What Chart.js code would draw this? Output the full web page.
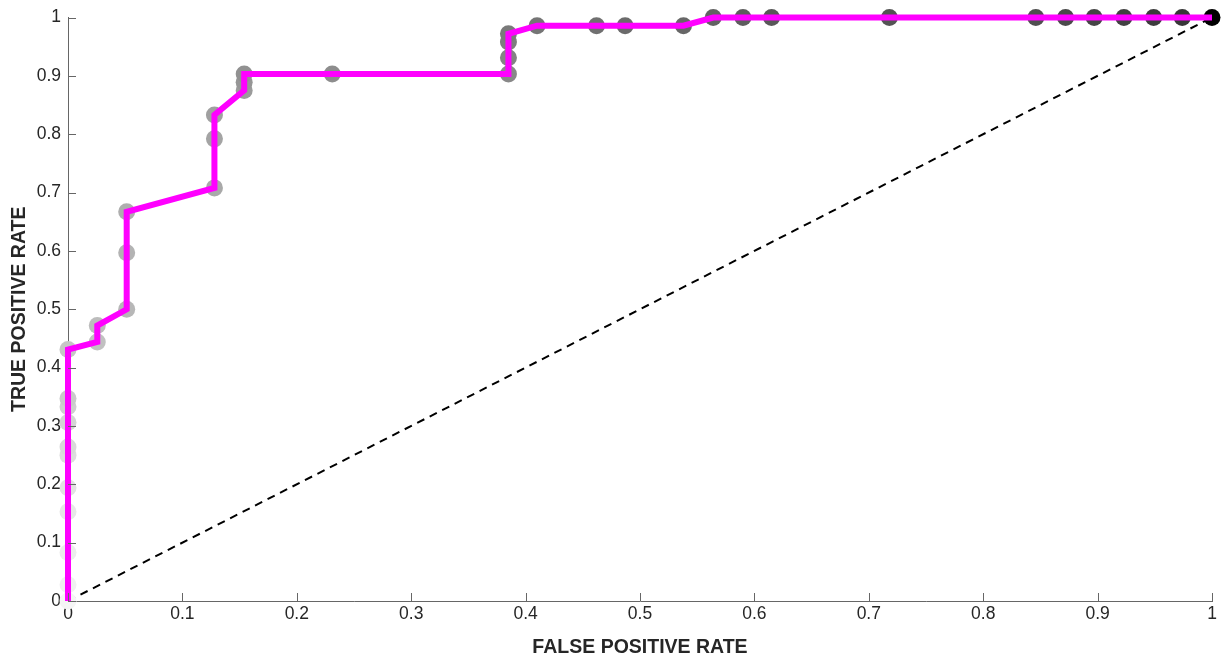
<!DOCTYPE html>
<html>
<head>
<meta charset="utf-8">
<script src="https://cdn.jsdelivr.net/npm/chart.js@4"></script>
<style>
  html, body { margin: 0; padding: 0; background: #fff; }
  #wrap { width: 1229px; height: 664px; }
</style>
</head>
<body>
<div id="wrap"><canvas id="roc"></canvas></div>
<script>
// ROC points (false positive rate, true positive rate)
const fpr = [0, 0, 0, 0, 0, 0, 0, 0, 0, 0, 0,
  0.0256, 0.0256, 0.0513, 0.0513, 0.0513, 0.128, 0.128, 0.128,
  0.154, 0.154, 0.154, 0.231, 0.385, 0.385, 0.385, 0.385,
  0.41, 0.462, 0.487, 0.538, 0.564, 0.59, 0.615, 0.718,
  0.846, 0.872, 0.897, 0.923, 0.949, 0.974, 1];
const tpr = [0, 0.028, 0.083, 0.153, 0.194, 0.25, 0.264, 0.306, 0.333, 0.347, 0.431,
  0.444, 0.472, 0.5, 0.597, 0.667, 0.708, 0.792, 0.833,
  0.875, 0.889, 0.903, 0.903, 0.903, 0.931, 0.958, 0.972,
  0.986, 0.986, 0.986, 0.986, 1, 1, 1, 1,
  1, 1, 1, 1, 1, 1, 1];
const chanceX = [0, 1];
const chanceY = [0, 1];
const tickVals = [0, 0.1, 0.2, 0.3, 0.4, 0.5, 0.6, 0.7, 0.8, 0.9, 1];

const rocPts = fpr.map((x, i) => ({ x, y: tpr[i] }));
const chancePts = chanceX.map((x, i) => ({ x, y: chanceY[i] }));

// darker marker as the threshold drops
function greyFor(i, n) {
  if (i === n - 1) return '#000';
  const v = Math.round(245 - 190 * (i / (n - 2)));
  return `rgb(${v},${v},${v})`;
}

// MATLAB style inward ticks
const innerTicks = {
  id: 'innerTicks',
  afterDatasetsDraw(chart) {
    const { ctx, scales: { x, y } } = chart;
    ctx.save();
    ctx.strokeStyle = '#666';
    ctx.lineWidth = 1;
    ctx.beginPath();
    tickVals.forEach((v) => {
      const px = Math.round(x.getPixelForValue(v)) + 0.5;
      ctx.moveTo(px, y.bottom);
      ctx.lineTo(px, y.bottom - 8);
      const py = Math.round(y.getPixelForValue(v)) + 0.5;
      ctx.moveTo(x.left, py);
      ctx.lineTo(x.left + 8, py);
    });
    ctx.stroke();
    ctx.restore();
  }
};

const font = { family: '"Liberation Sans", Arial, sans-serif', size: 17.5 };
const titleFont = { family: '"Liberation Sans", Arial, sans-serif', size: 19.5, weight: 'bold' };

new Chart(document.getElementById('roc'), {
  type: 'scatter',
  data: {
    datasets: [
      {
        data: chancePts,
        showLine: true,
        borderColor: '#000',
        borderWidth: 2,
        borderDash: [8, 6],
        pointRadius: 0,
        order: 3,
      },
      {
        data: rocPts,
        showLine: false,
        pointRadius: 8.5,
        pointBorderWidth: 0,
        pointBackgroundColor: (c) => greyFor(c.dataIndex, rocPts.length),
        clip: false,
        order: 2,
      },
      {
        data: rocPts,
        showLine: true,
        borderColor: '#ff00ff',
        borderWidth: 6,
        borderJoinStyle: 'miter',
        pointRadius: 0,
        clip: false,
        order: 1,
      },
    ],
  },
  options: {
    responsive: true,
    maintainAspectRatio: false,
    animation: false,
    layout: { padding: { left: 0, right: 17, top: 16, bottom: 0 } },
    plugins: { legend: { display: false }, tooltip: { enabled: false } },
    scales: {
      x: {
        type: 'linear', min: 0, max: 1,
        afterBuildTicks: (s) => { s.ticks = tickVals.map((v) => ({ value: v })); },
        afterFit: (s) => { s.height = 63; },
        grid: { display: true, drawOnChartArea: false, drawTicks: false },
        border: { color: '#666', width: 1 },
        ticks: { color: '#262626', font, padding: 3, maxRotation: 0, callback: (v) => String(v) },
        title: { display: true, text: 'FALSE POSITIVE RATE', color: '#262626',
          font: titleFont, padding: { top: 4, bottom: 5 } },
      },
      y: {
        type: 'linear', min: 0, max: 1,
        afterBuildTicks: (s) => { s.ticks = tickVals.map((v) => ({ value: v })); },
        afterFit: (s) => { s.width = 68; },
        grid: { display: true, drawOnChartArea: false, drawTicks: false },
        border: { color: '#666', width: 1 },
        ticks: { color: '#262626', font, padding: 7, callback: (v) => String(v) },
        title: { display: true, text: 'TRUE POSITIVE RATE', color: '#262626',
          font: titleFont, padding: { top: 8, bottom: 0 } },
      },
    },
  },
  plugins: [innerTicks],
});
</script>
</body>
</html>
